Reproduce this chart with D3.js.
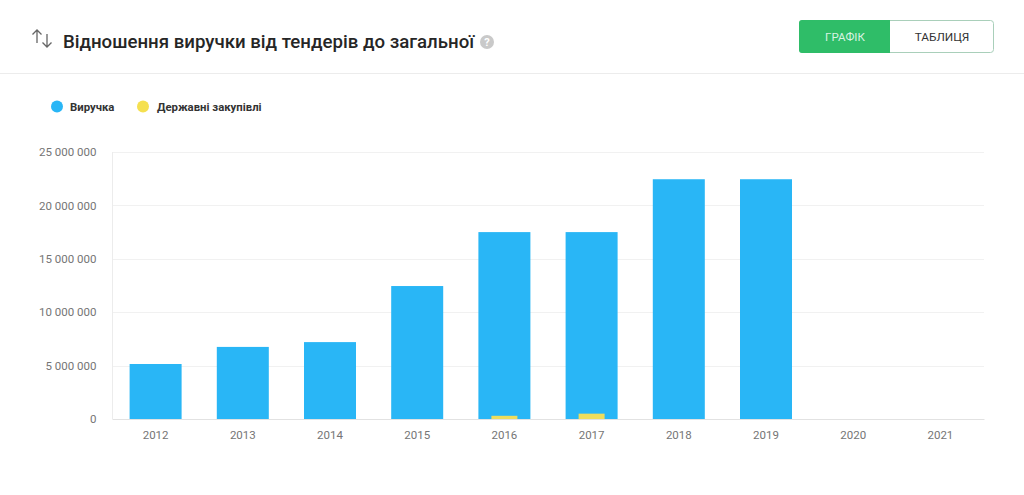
<!DOCTYPE html>
<html><head><meta charset="utf-8">
<script src="https://cdn.jsdelivr.net/npm/d3@7/dist/d3.min.js"></script>
<style>
html,body{margin:0;padding:0;background:#fff;overflow:hidden}
text{font-family:Roboto,sans-serif}
</style></head><body><svg id="c" width="1024" height="495"></svg>
<script>
const years=["2012","2013","2014","2015","2016","2017","2018","2019","2020","2021"];
const revenue=[5150000,6750000,7200000,12450000,17500000,17500000,22450000,22450000,0,0];
const tenders=[0,0,0,0,300000,500000,0,0,0,0];
const ticks=[0,5000000,10000000,15000000,20000000,25000000];
const seriesNames=["Виручка","Державні закупівлі"];
const colors=["#29b6f6","#f5e050"];
const title="Відношення виручки від тендерів до загальної";
const buttons=["ГРАФІК","ТАБЛИЦЯ"];

const svg=d3.select("#c");
const x=d3.scaleBand().domain(years).range([112,984]).padding(0);
const y=d3.scaleLinear().domain([0,25000000]).range([419,152]);
const fmt=v=>d3.format(",")(v).replace(/,/g," ");

// header
svg.append("line").attr("x1",0).attr("x2",1024).attr("y1",73.5).attr("y2",73.5).attr("stroke","#ececec");
const ic=svg.append("g").attr("fill","none").attr("stroke","#666").attr("stroke-width",1.3);
ic.append("path").attr("d","M37 43V30M32.5 34.5L37 30L41.5 34.5");
ic.append("path").attr("d","M47 34V47M42.5 42.5L47 47L51.5 42.5");
svg.append("text").attr("x",63).attr("y",48).attr("font-size",18.65).attr("font-weight",500).attr("fill","#262626").text(title);
svg.append("circle").attr("cx",487).attr("cy",42).attr("r",7).attr("fill","#c9c9c9");
svg.append("text").attr("x",487).attr("y",46).attr("text-anchor","middle").attr("font-size",11).attr("font-weight",700).attr("fill","#fff").text("?");

// buttons
svg.append("rect").attr("x",799.5).attr("y",20.5).attr("width",194).attr("height",32).attr("rx",3).attr("fill","#fff").attr("stroke","#a9cfba");
svg.append("path").attr("d","M890 20H802a3 3 0 0 0 -3 3V50a3 3 0 0 0 3 3H890Z").attr("fill","#2fbd68");
svg.append("text").attr("x",845).attr("y",41).attr("text-anchor","middle").attr("font-size",11.5).attr("font-weight",400).attr("fill","#d8f3e2").text(buttons[0]);
svg.append("text").attr("x",942).attr("y",41).attr("text-anchor","middle").attr("font-size",11.8).attr("font-weight",400).attr("fill","#333").text(buttons[1]);

// legend
const lx=[57,143], tx=[70,157];
seriesNames.forEach((n,i)=>{
  svg.append("circle").attr("cx",lx[i]).attr("cy",106.5).attr("r",6).attr("fill",colors[i]);
  svg.append("text").attr("x",tx[i]).attr("y",111).attr("font-size",11.35).attr("font-weight",700).attr("fill","#333").text(n);
});

// grid
svg.append("g").selectAll("line").data(ticks.slice(1)).join("line")
 .attr("x1",112).attr("x2",984).attr("y1",d=>Math.round(y(d))+.5).attr("y2",d=>Math.round(y(d))+.5).attr("stroke","#f1f1f1");
svg.append("line").attr("x1",112.5).attr("x2",112.5).attr("y1",152).attr("y2",419).attr("stroke","#ececec");

// axes
const ya=svg.append("g").attr("transform","translate(112,0)").call(d3.axisLeft(y).tickValues(ticks).tickFormat(fmt).tickSize(0).tickPadding(15.5));
ya.select(".domain").remove();
ya.selectAll("text").attr("font-size",11.5).attr("fill","#757575").attr("font-family","Roboto,sans-serif");

// bars
const w=52, w2=26;
svg.append("g").selectAll("rect").data(years).join("rect")
 .attr("x",d=>x(d)+x.bandwidth()/2-w/2).attr("width",w)
 .attr("y",(d,i)=>y(revenue[i])).attr("height",(d,i)=>y(0)-y(revenue[i])).attr("fill",colors[0]);
svg.append("g").selectAll("rect").data(years).join("rect")
 .attr("x",d=>x(d)+x.bandwidth()/2-w2/2).attr("width",w2)
 .attr("y",(d,i)=>y(tenders[i])).attr("height",(d,i)=>y(0)-y(tenders[i])).attr("fill","#eedd5c");

const xa=svg.append("g").attr("transform","translate(0,419)").call(d3.axisBottom(x).tickSize(0).tickPadding(12));
xa.select(".domain").attr("stroke","#e2e2e2");
xa.selectAll("text").attr("font-size",11.5).attr("fill","#757575").attr("font-family","Roboto,sans-serif");
</script></body></html>
